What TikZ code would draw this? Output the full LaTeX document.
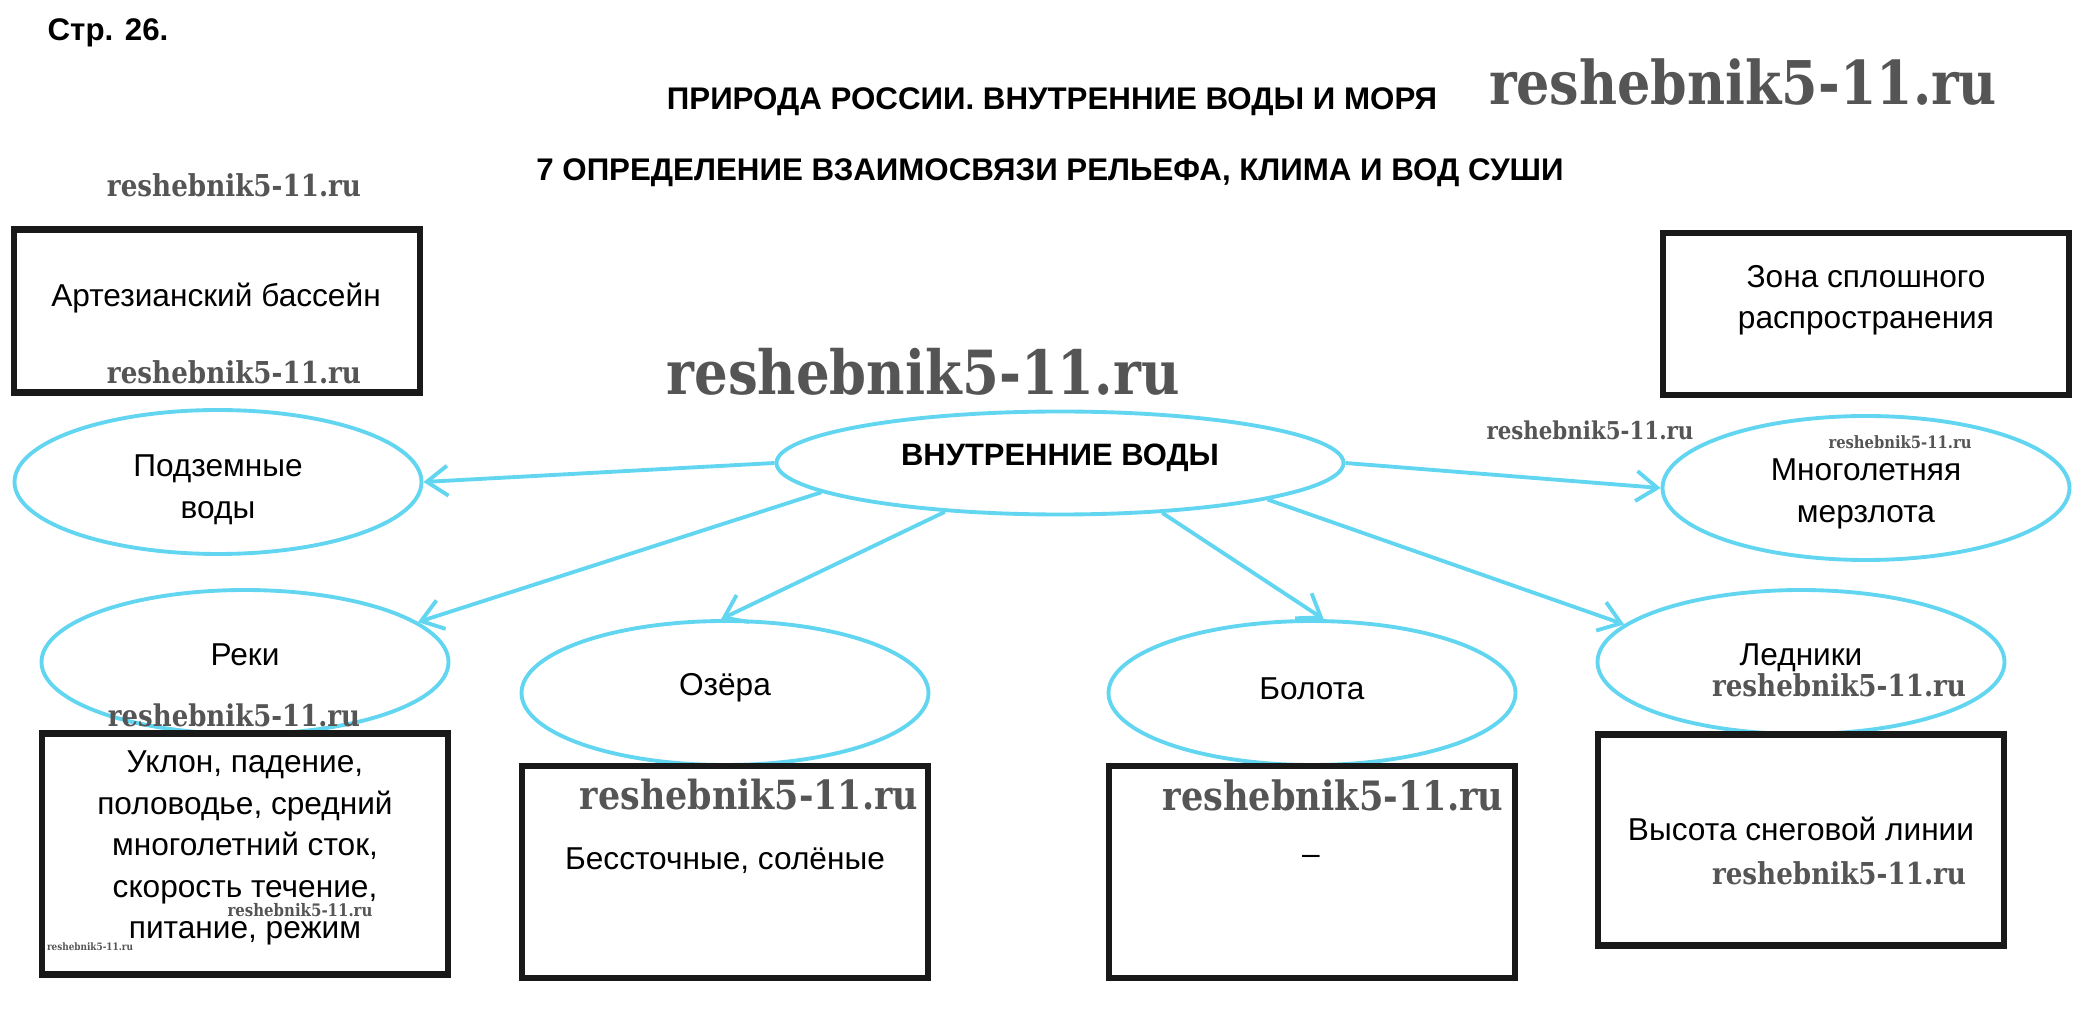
\documentclass[tikz,border=0pt]{standalone}
\usepackage{fontspec}
\setmainfont{Liberation Sans}
\newfontfamily\wmfont{DejaVu Serif}
\usepackage{graphicx}
\usetikzlibrary{shapes.geometric,arrows.meta}

\definecolor{vodacyan}{RGB}{98,214,240}
\definecolor{wmgray}{RGB}{85,85,85}
\newcommand{\wm}[1]{\scalebox{1}[1.15]{\resizebox{#1}{!}{\wmfont\bfseries reshebnik5-11.ru}}}

\tikzset{
  oval/.style={ellipse, draw=vodacyan, line width=1.1pt, fill=white, inner sep=0pt,
    minimum width=40.7mm, minimum height=14.4mm},
  box/.style={rectangle, draw=black!90, line width=1.8pt, fill=white, inner sep=0pt,
    minimum width=40.6mm},
  arr/.style={draw=vodacyan, line width=1.1pt, -{Straight Barb[length=2.1mm,width=3mm]}},
  lbl/.style={inner sep=0pt, align=center, font=\fontsize{9}{11.8}\selectfont},
  ttl/.style={inner sep=0pt, font=\bfseries\fontsize{8.9}{11}\selectfont},
  wmark/.style={inner sep=0pt, text=wmgray}
}

\begin{document}
\begin{tikzpicture}[x=0.1mm,y=-0.1mm]
  \useasboundingbox (0,0) rectangle (2090,1033);

  % headings
  \node[ttl] (page)  at (108,33)   {Стр. 26.};
  \node[ttl] (head1) at (1052,102) {ПРИРОДА РОССИИ. ВНУТРЕННИЕ ВОДЫ И МОРЯ};
  \node[ttl] (head2) at (1050,173) {7 ОПРЕДЕЛЕНИЕ ВЗАИМОСВЯЗИ РЕЛЬЕФА, КЛИМА И ВОД СУШИ};

  % ovals
  \node[oval, minimum width=56.7mm, minimum height=10.3mm] (c) at (1060,463) {};
  \node[oval] (pz) at (218,482)  {};
  \node[oval] (mz) at (1866,488) {};
  \node[oval] (rk) at (245,662)  {};
  \node[oval] (oz) at (725,693)  {};
  \node[oval] (bl) at (1312,693) {};
  \node[oval] (ld) at (1801,662) {};

  % arrows
  \draw[arr] (c.west) -- (pz.east);
  \draw[arr] (c.east) -- (mz.west);
  \draw[arr] (c.187)  -- (rk.13);
  \draw[arr] (c.203)  -- (oz.93);
  \draw[arr] (c.-26)  -- (bl.81);
  \draw[arr] (c.-10)  -- (ld.168);

  % boxes
  \node[box, minimum height=16.3mm] (ab)  at (217,311)  {};
  \node[box, minimum height=16.2mm] (zs)  at (1866,314) {};
  \node[box, minimum height=24.1mm] (rkb) at (245,854)  {};
  \node[box, minimum height=21.2mm] (ozb) at (725,872)  {};
  \node[box, minimum height=21.2mm] (blb) at (1312,872) {};
  \node[box, minimum height=21.1mm] (ldb) at (1801,840) {};

  % texts
  \node[ttl, font=\bfseries\fontsize{8.8}{11}\selectfont] (c-t) at (1060,458) {ВНУТРЕННИЕ ВОДЫ};
  \node[lbl] (pz-t) at (218,490)  {Подземные\\воды};
  \node[lbl] (mz-t) at (1866,494) {Многолетняя\\мерзлота};
  \node[lbl] (rk-t) at (245,655)  {Реки};
  \node[lbl] (oz-t) at (725,688)  {Озёра};
  \node[lbl] (bl-t) at (1312,689) {Болота};
  \node[lbl] (ld-t) at (1801,658) {Ледники};
  \node[lbl] (ab-t) at (216,298)  {Артезианский бассейн};
  \node[lbl] (zs-t) at (1866,300) {Зона сплошного\\распространения};
  \node[lbl] (rkb-t) at (245,848) {Уклон, падение,\\половодье, средний\\многолетний сток,\\скорость течение,\\питание, режим};
  \node[lbl] (ozb-t) at (725,861)  {Бессточные, солёные};
  \node[lbl] (blb-t) at (1311,860) {–};
  \node[lbl] (ldb-t) at (1801,829) {Высота снеговой линии};

  % watermarks
  \node[wmark] (wm1)  at (1743,82)  {\wm{50.8mm}};
  \node[wmark] (wm2)  at (234,185)  {\wm{25.4mm}};
  \node[wmark] (wm3)  at (234,372)  {\wm{25.4mm}};
  \node[wmark] (wm4)  at (923,372)  {\wm{51.3mm}};
  \node[wmark] (wm5)  at (1590,430) {\wm{20.7mm}};
  \node[wmark] (wm6)  at (1900,442) {\wm{14.3mm}};
  \node[wmark] (wm7)  at (234,715)  {\wm{25.2mm}};
  \node[wmark] (wm8)  at (300,910)  {\wm{14.5mm}};
  \node[wmark] (wm9)  at (90,947)   {\wm{8.6mm}};
  \node[wmark] (wm10) at (749,795)  {\wm{33.8mm}};
  \node[wmark] (wm11) at (1333,795) {\wm{34.1mm}};
  \node[wmark] (wm12) at (1839,685) {\wm{25.4mm}};
  \node[wmark] (wm13) at (1839,873) {\wm{25.4mm}};
\end{tikzpicture}
\end{document}
